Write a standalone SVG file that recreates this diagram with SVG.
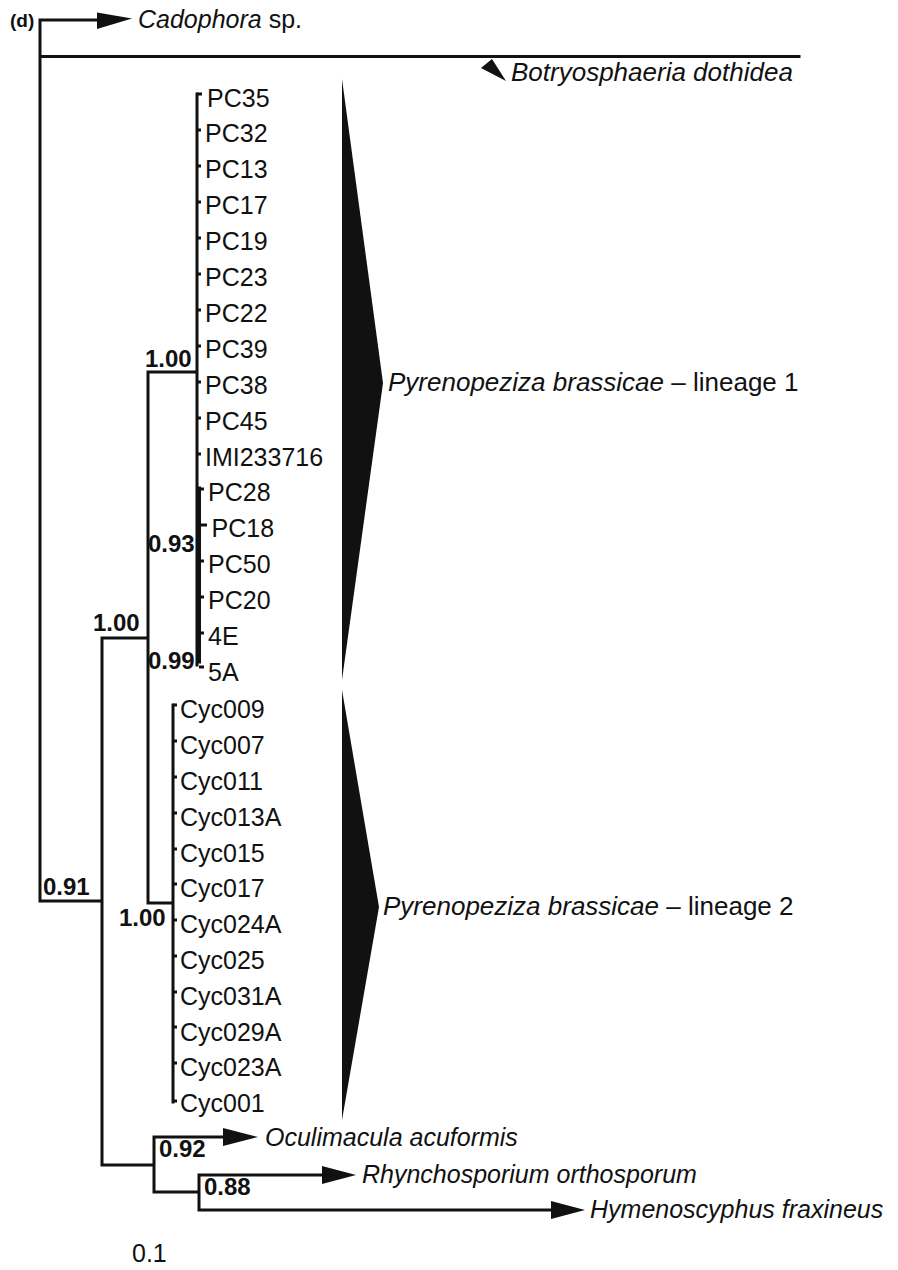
<svg xmlns="http://www.w3.org/2000/svg" width="898" height="1270" viewBox="0 0 898 1270">
  <style>
    .br { fill: none; stroke: #111; stroke-width: 3; stroke-linecap: square; }
    .tk { fill: none; stroke: #111; stroke-width: 3; }
    .lbl { font-family: "Liberation Sans", Arial, sans-serif; font-size: 25px; fill: #111; }
    .big { font-size: 26px; }
    .it { font-style: italic; }
    .sup { font-family: "Liberation Sans", Arial, sans-serif; font-size: 24px; font-weight: bold; fill: #111; }
    .clade { fill: #111; stroke: none; }
  </style>
  <rect width="898" height="1270" fill="#fff"/>

  <text x="10" y="27" font-family="Liberation Sans, Arial, sans-serif" font-size="19" font-weight="bold" fill="#111">(d)</text>

  <!-- branches -->
  <g id="connectors">
    <path class="br" d="M40,20 H97 M40,20 V901 M40,56.5 H799 M40,901 H102
                        M102,638 V1165 M102,638 H148 M148,372 V903 M148,372 H197
                        M197,94 V665 M148,903 H173 M173,705 V1102
                        M102,1165 H154 M154,1137 V1192 M154,1137 H223
                        M154,1192 H199 M199,1175 V1210 M199,1175 H323 M199,1210 H552"/>
    <path class="br" d="M199.5,488 V662"/>
    <!-- terminal ticks, lineage 1 -->
    <path class="tk" d="M197,94 H202 M197,130 H201 M197,166 H201 M197,202 H201 M197,238 H201
                        M197,274 H201 M197,310 H201 M197,346 H201 M197,382 H201 M197,418 H201
                        M197,454 H201 M199,489 H204 M199,525 H207 M199,561 H204 M199,597 H204
                        M199,633 H204 M199,667 H204"/>
    <!-- terminal ticks, lineage 2 -->
    <path class="tk" d="M173,705 H177 M173,741 H177 M173,777 H177 M173,813 H177 M173,849 H177
                        M173,884 H177 M173,920 H177 M173,956 H177 M173,992 H177 M173,1027 H177
                        M173,1063 H177 M173,1101 H177"/>
  </g>

  <!-- collapsed clades -->
  <g id="cadophora">
    <polygon class="clade" points="97,12.5 132,18.5 97,29"/>
    <text class="lbl" x="138" y="27.5"><tspan class="it">Cadophora</tspan> sp.</text>
  </g>
  <g id="botryosphaeria">
    <polygon class="clade" points="481,68 492,59 506,81"/>
    <text class="lbl big it" x="511" y="80.5">Botryosphaeria dothidea</text>
  </g>
  <g id="lineage1">
    <polygon class="clade" points="342,79 383,383 342,680"/>
    <text class="lbl big" x="388" y="391"><tspan class="it">Pyrenopeziza brassicae</tspan> – lineage 1</text>
  </g>
  <g id="lineage2">
    <polygon class="clade" points="342,690 379,907 342,1120"/>
    <text class="lbl big" x="383" y="915"><tspan class="it">Pyrenopeziza brassicae</tspan> – lineage 2</text>
  </g>
  <g id="oculimacula">
    <polygon class="clade" points="223,1128 258,1137 223,1146"/>
    <text class="lbl it" x="265" y="1146">Oculimacula acuformis</text>
  </g>
  <g id="rhynchosporium">
    <polygon class="clade" points="322,1166 356,1175 322,1184"/>
    <text class="lbl it" x="362" y="1183">Rhynchosporium orthosporum</text>
  </g>
  <g id="hymenoscyphus">
    <polygon class="clade" points="551,1201 585,1210 551,1219"/>
    <text class="lbl it" x="590" y="1218">Hymenoscyphus fraxineus</text>
  </g>

  <!-- lineage 1 isolates -->
  <g id="PC35"><text class="lbl" x="207" y="106.5">PC35</text></g>
  <g id="PC32"><text class="lbl" x="205" y="142.4">PC32</text></g>
  <g id="PC13"><text class="lbl" x="205" y="178.3">PC13</text></g>
  <g id="PC17"><text class="lbl" x="205" y="214.2">PC17</text></g>
  <g id="PC19"><text class="lbl" x="205" y="250.1">PC19</text></g>
  <g id="PC23"><text class="lbl" x="205" y="286">PC23</text></g>
  <g id="PC22"><text class="lbl" x="205" y="321.9">PC22</text></g>
  <g id="PC39"><text class="lbl" x="205" y="357.8">PC39</text></g>
  <g id="PC38"><text class="lbl" x="205" y="393.7">PC38</text></g>
  <g id="PC45"><text class="lbl" x="205" y="429.6">PC45</text></g>
  <g id="IMI233716"><text class="lbl" x="205" y="465.5">IMI233716</text></g>
  <g id="PC28"><text class="lbl" x="208" y="501.4">PC28</text></g>
  <g id="PC18"><text class="lbl" x="211.5" y="537.3">PC18</text></g>
  <g id="PC50"><text class="lbl" x="208" y="573.2">PC50</text></g>
  <g id="PC20"><text class="lbl" x="208" y="609.1">PC20</text></g>
  <g id="iso4E"><text class="lbl" x="208" y="645">4E</text></g>
  <g id="iso5A"><text class="lbl" x="208" y="680.9">5A</text></g>

  <!-- lineage 2 isolates -->
  <g id="Cyc009"><text class="lbl" x="180" y="718.3">Cyc009</text></g>
  <g id="Cyc007"><text class="lbl" x="180" y="754.1">Cyc007</text></g>
  <g id="Cyc011"><text class="lbl" x="180" y="789.9">Cyc011</text></g>
  <g id="Cyc013A"><text class="lbl" x="180" y="825.7">Cyc013A</text></g>
  <g id="Cyc015"><text class="lbl" x="180" y="861.5">Cyc015</text></g>
  <g id="Cyc017"><text class="lbl" x="180" y="897.3">Cyc017</text></g>
  <g id="Cyc024A"><text class="lbl" x="180" y="933.1">Cyc024A</text></g>
  <g id="Cyc025"><text class="lbl" x="180" y="968.9">Cyc025</text></g>
  <g id="Cyc031A"><text class="lbl" x="180" y="1004.7">Cyc031A</text></g>
  <g id="Cyc029A"><text class="lbl" x="180" y="1040.5">Cyc029A</text></g>
  <g id="Cyc023A"><text class="lbl" x="180" y="1076.3">Cyc023A</text></g>
  <g id="Cyc001"><text class="lbl" x="180" y="1112.1">Cyc001</text></g>

  <!-- support values -->
  <g id="node-lineage1"><text class="sup" x="145" y="367">1.00</text></g>
  <g id="node-pc28"><text class="sup" x="148" y="552">0.93</text></g>
  <g id="node-4e"><text class="sup" x="148" y="669">0.99</text></g>
  <g id="node-brassicae"><text class="sup" x="93" y="631">1.00</text></g>
  <g id="node-ingroup"><text class="sup" x="43" y="895">0.91</text></g>
  <g id="node-lineage2"><text class="sup" x="119" y="926">1.00</text></g>
  <g id="node-helotiales"><text class="sup" x="159" y="1157">0.92</text></g>
  <g id="node-rhyncho"><text class="sup" x="204" y="1195">0.88</text></g>

  <text class="lbl" x="132" y="1262">0.1</text>
</svg>
